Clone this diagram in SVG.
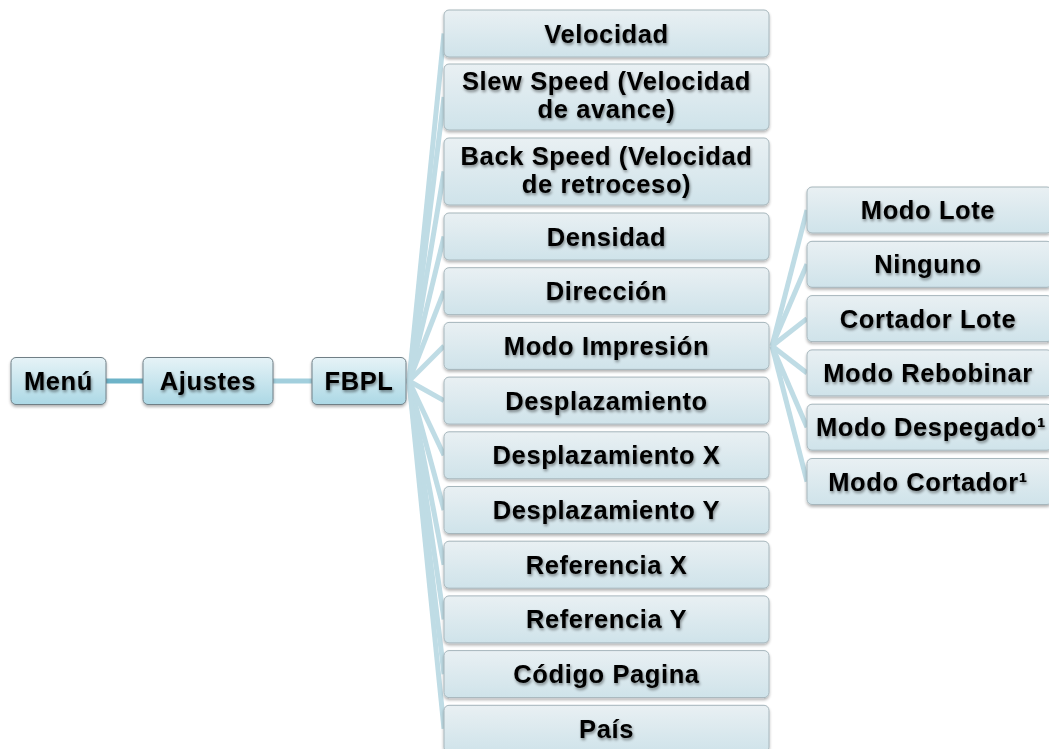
<svg xmlns="http://www.w3.org/2000/svg" width="1049" height="749" viewBox="0 0 1049 749">
<defs>
<linearGradient id="gMain" x1="0" y1="0" x2="0" y2="1">
<stop offset="0" stop-color="#e6f3f7"/>
<stop offset="1" stop-color="#acd8e5"/>
</linearGradient>
<linearGradient id="gSub" x1="0" y1="0" x2="0" y2="1">
<stop offset="0" stop-color="#e9f0f3"/>
<stop offset="1" stop-color="#cfe3ea"/>
</linearGradient>
<filter id="boxShadow" x="-10%" y="-20%" width="120%" height="150%">
<feGaussianBlur in="SourceAlpha" stdDeviation="1.5"/>
<feOffset dx="0" dy="2" result="b"/>
<feComponentTransfer><feFuncA type="linear" slope="0.3"/></feComponentTransfer>
<feMerge><feMergeNode/><feMergeNode in="SourceGraphic"/></feMerge>
</filter>
<filter id="txtShadow" x="-10%" y="-30%" width="120%" height="170%">
<feGaussianBlur in="SourceAlpha" stdDeviation="1.8"/>
<feOffset dx="1" dy="2"/>
<feComponentTransfer><feFuncA type="linear" slope="0.45"/></feComponentTransfer>
<feMerge><feMergeNode/><feMergeNode in="SourceGraphic"/></feMerge>
</filter>
</defs>
<style>
.main{fill:url(#gMain);stroke:#6f7f86;stroke-width:1;filter:url(#boxShadow)}
.sub{fill:url(#gSub);stroke:#a6b6bc;stroke-width:1;filter:url(#boxShadow)}
text{font-family:"Liberation Sans",Arial,sans-serif;font-weight:bold;font-size:25.5px;letter-spacing:0.6px;fill:#000;text-anchor:middle;filter:url(#txtShadow)}
.c1{stroke:#6db3c8;stroke-width:5;fill:none}
.c2{stroke:#a2cfdd;stroke-width:5;fill:none}
.c3{stroke:#bfdce5;stroke-width:5;fill:none;stroke-linecap:butt}
</style>
<g id="connectors">
<line class="c1" x1="106" y1="381" x2="143" y2="381"/>
<line class="c2" x1="273" y1="381" x2="312" y2="381"/>
<line class="c3" x1="409" y1="381" x2="444" y2="33.5"/>
<line class="c3" x1="409" y1="381" x2="444" y2="97"/>
<line class="c3" x1="409" y1="381" x2="444" y2="171.5"/>
<line class="c3" x1="409" y1="381" x2="444" y2="236.5"/>
<line class="c3" x1="409" y1="381" x2="444" y2="291.2"/>
<line class="c3" x1="409" y1="381" x2="444" y2="345.9"/>
<line class="c3" x1="409" y1="381" x2="444" y2="400.6"/>
<line class="c3" x1="409" y1="381" x2="444" y2="455.3"/>
<line class="c3" x1="409" y1="381" x2="444" y2="510"/>
<line class="c3" x1="409" y1="381" x2="444" y2="564.7"/>
<line class="c3" x1="409" y1="381" x2="444" y2="619.4"/>
<line class="c3" x1="409" y1="381" x2="444" y2="674.1"/>
<line class="c3" x1="409" y1="381" x2="444" y2="728.8"/>
<line class="c3" x1="772" y1="346" x2="807" y2="210"/>
<line class="c3" x1="772" y1="346" x2="807" y2="264.3"/>
<line class="c3" x1="772" y1="346" x2="807" y2="318.6"/>
<line class="c3" x1="772" y1="346" x2="807" y2="372.9"/>
<line class="c3" x1="772" y1="346" x2="807" y2="427.2"/>
<line class="c3" x1="772" y1="346" x2="807" y2="481.5"/>
</g>
<g id="n-menu"><rect class="main" x="11" y="357.5" width="95" height="47" rx="5"/><text x="58.5" y="390">Menú</text></g>
<g id="n-ajustes"><rect class="main" x="143" y="357.5" width="130" height="47" rx="5"/><text x="208" y="390">Ajustes</text></g>
<g id="n-fbpl"><rect class="main" x="312" y="357.5" width="94" height="47" rx="5"/><text x="359" y="390">FBPL</text></g>

<g id="n-velocidad"><rect class="sub" x="444" y="10" width="325" height="47" rx="5"/><text x="606.5" y="42.5">Velocidad</text></g>
<g id="n-slew"><rect class="sub" x="444" y="64" width="325" height="66" rx="5"/><text x="606.5" y="89.5">Slew Speed (Velocidad<tspan x="606.5" dy="28.5">de avance)</tspan></text></g>
<g id="n-back"><rect class="sub" x="444" y="138" width="325" height="67" rx="5"/><text x="606.5" y="164.5">Back Speed (Velocidad<tspan x="606.5" dy="28.5">de retroceso)</tspan></text></g>
<g id="n-densidad"><rect class="sub" x="444" y="213" width="325" height="47" rx="5"/><text x="606.5" y="245.5">Densidad</text></g>
<g id="n-direccion"><rect class="sub" x="444" y="267.7" width="325" height="47" rx="5"/><text x="606.5" y="300.2">Dirección</text></g>
<g id="n-modo-impresion"><rect class="sub" x="444" y="322.4" width="325" height="47" rx="5"/><text x="606.5" y="354.9">Modo Impresión</text></g>
<g id="n-desplazamiento"><rect class="sub" x="444" y="377.1" width="325" height="47" rx="5"/><text x="606.5" y="409.6">Desplazamiento</text></g>
<g id="n-desp-x"><rect class="sub" x="444" y="431.8" width="325" height="47" rx="5"/><text x="606.5" y="464.3">Desplazamiento X</text></g>
<g id="n-desp-y"><rect class="sub" x="444" y="486.5" width="325" height="47" rx="5"/><text x="606.5" y="519">Desplazamiento Y</text></g>
<g id="n-ref-x"><rect class="sub" x="444" y="541.2" width="325" height="47" rx="5"/><text x="606.5" y="573.7">Referencia X</text></g>
<g id="n-ref-y"><rect class="sub" x="444" y="595.9" width="325" height="47" rx="5"/><text x="606.5" y="628.4">Referencia Y</text></g>
<g id="n-codigo"><rect class="sub" x="444" y="650.6" width="325" height="47" rx="5"/><text x="606.5" y="683.1">Código Pagina</text></g>
<g id="n-pais"><rect class="sub" x="444" y="705.3" width="325" height="47" rx="5"/><text x="606.5" y="737.8">País</text></g>

<g id="n-modo-lote"><rect class="sub" x="807" y="187" width="245" height="46" rx="5"/><text x="928" y="219">Modo Lote</text></g>
<g id="n-ninguno"><rect class="sub" x="807" y="241.3" width="245" height="46" rx="5"/><text x="928" y="273.3">Ninguno</text></g>
<g id="n-cortador-lote"><rect class="sub" x="807" y="295.6" width="245" height="46" rx="5"/><text x="928" y="327.6">Cortador Lote</text></g>
<g id="n-rebobinar"><rect class="sub" x="807" y="349.9" width="245" height="46" rx="5"/><text x="928" y="381.9">Modo Rebobinar</text></g>
<g id="n-despegado"><rect class="sub" x="807" y="404.2" width="245" height="46" rx="5"/><text x="931" y="436.2">Modo Despegado¹</text></g>
<g id="n-cortador"><rect class="sub" x="807" y="458.5" width="245" height="46" rx="5"/><text x="928" y="490.5">Modo Cortador¹</text></g>
</svg>
